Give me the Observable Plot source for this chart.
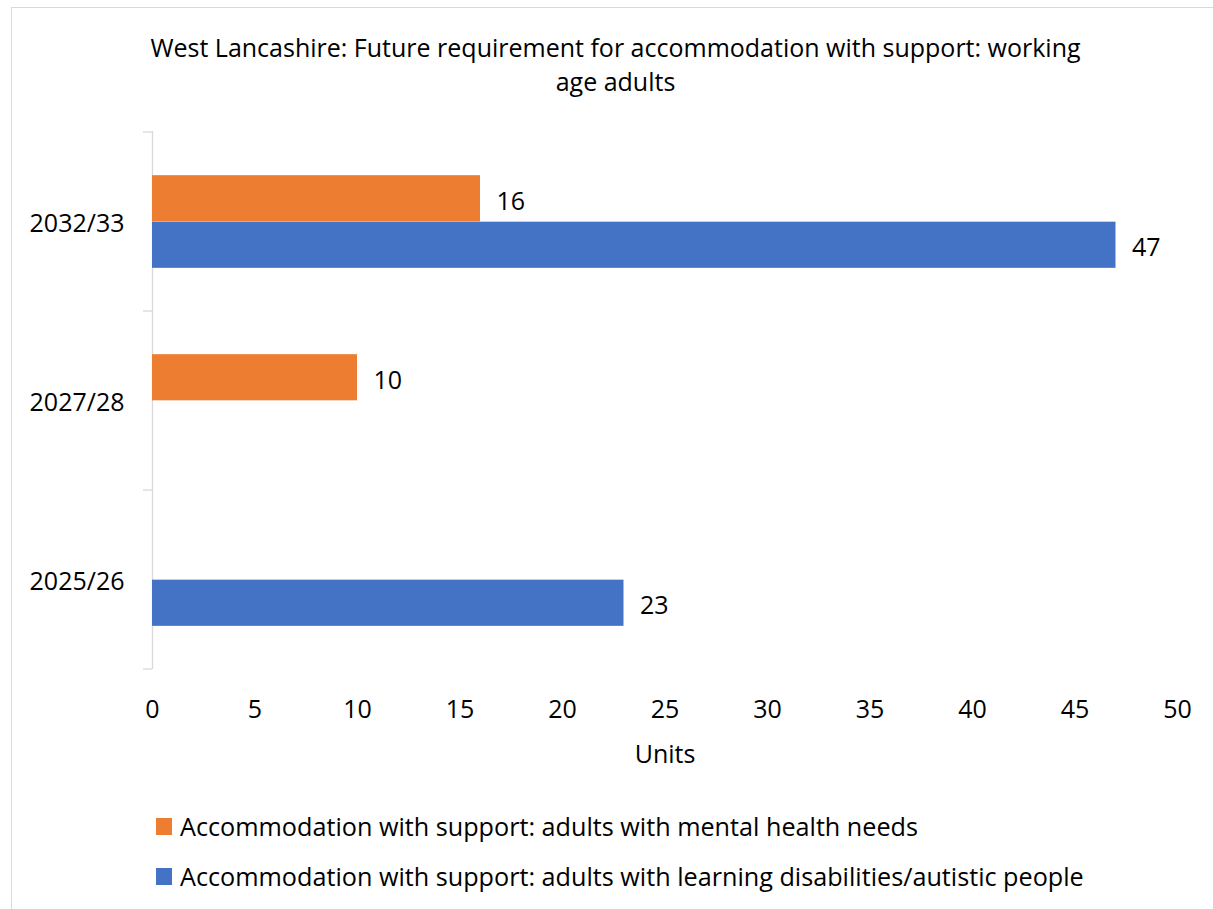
<!DOCTYPE html>
<html><head><meta charset="utf-8">
<script src="https://cdn.jsdelivr.net/npm/d3@7"></script>
<script src="https://cdn.jsdelivr.net/npm/@observablehq/plot@0.6"></script>
<style>
body{margin:0;background:#fff;}
#wrap{position:relative;width:1213px;height:909px;overflow:hidden;font-family:'Open Sans',sans-serif;color:#000;}
#frame{position:absolute;left:11px;top:7px;width:1400px;height:1200px;border:1.3px solid #d9d9d9;box-sizing:border-box;}
#title{position:absolute;left:0;top:30px;width:1231px;text-align:center;font-size:25px;line-height:34px;white-space:nowrap;}
#chart{position:absolute;left:0;top:100px;}
#legend{position:absolute;left:156px;top:801px;font-size:25.2px;}
.row{position:relative;height:50px;line-height:50px;white-space:nowrap;}
.sw{position:absolute;left:0;top:17px;width:16px;height:17px;}
.lt{position:absolute;left:24px;top:0;}
</style></head>
<body>
<div id="wrap">
  <div id="frame"></div>
  <div id="chart"></div>
  <div id="title"></div>
  <div id="legend"></div>
</div>
<script>
const titleLines = ["West Lancashire: Future requirement for accommodation with support: working", "age adults"];
const categories = ["2032/33", "2027/28", "2025/26"];
const seriesNames = [
  "Accommodation with support: adults with mental health needs",
  "Accommodation with support: adults with learning disabilities/autistic people"
];
const mentalHealth = [16, 10, null];
const learningDisabilities = [47, null, 23];
const xTicks = [0, 5, 10, 15, 20, 25, 30, 35, 40, 45, 50];
const xLabel = "Units";
const seriesColors = ["#ED7D31", "#4472C4"];

const rows = [];
categories.forEach((c, i) => {
  rows.push({year: c, series: seriesNames[0], value: mentalHealth[i]});
  rows.push({year: c, series: seriesNames[1], value: learningDisabilities[i]});
});
const valid = rows.filter(d => d.value != null);

const W = 1213, H = 690, MT = 31, MB = 121, ML = 152, MR = 36;
const band = (H - MT - MB) / categories.length;
const barH = 46.5;
const font = "'Open Sans', sans-serif";

function bandTicks(index, scales, values, dims) {
  const y = scales.y, x0 = scales.x(0);
  const ys = categories.map(c => y(c));
  ys.push(y(categories[categories.length - 1]) + y.bandwidth());
  const g = d3.create("svg:g");
  g.selectAll("line").data(ys).join("line")
    .attr("x1", x0 - 9).attr("x2", x0)
    .attr("y1", d => d).attr("y2", d => d)
    .attr("stroke", "#d9d9d9").attr("stroke-width", 1.3);
  return g.node();
}

const serieMarks = seriesNames.flatMap((s, k) => {
  const data = valid.filter(d => d.series === s);
  const top = k === 0;
  return [
    Plot.barX(data, {
      x: "value", y: "year", fill: "series",
      insetTop: top ? band / 2 - barH : band / 2,
      insetBottom: top ? band / 2 : band / 2 - barH
    }),
    Plot.text(data, {
      x: "value", y: "year", text: d => String(d.value),
      dx: 16, dy: (top ? -barH / 2 : barH / 2) + 3,
      textAnchor: "start", fill: "#000"
    })
  ];
});

const chart = Plot.plot({
  width: W, height: H,
  marginTop: MT, marginBottom: MB, marginLeft: ML, marginRight: MR,
  style: {fontFamily: font, fontSize: "25px", color: "#000", background: "transparent", overflow: "visible"},
  x: {domain: [0, 50]},
  y: {domain: categories, padding: 0},
  color: {domain: seriesNames, range: seriesColors},
  marks: [
    Plot.ruleX([0], {stroke: "#d9d9d9", strokeWidth: 1.3}),
    ...serieMarks,
    bandTicks,
    Plot.axisY({tickSize: 0, tickPadding: 28, dy: 2, label: null, fill: "#000"}),
    Plot.axisX({ticks: xTicks, tickSize: 0, tickPadding: 31, tickFormat: d => String(d), fill: "#000",
      label: xLabel, labelAnchor: "center", labelArrow: "none", labelOffset: 93})
  ]
});
document.getElementById("chart").appendChild(chart);

document.getElementById("title").innerHTML = titleLines.join("<br>");

const legend = d3.select("#legend");
seriesNames.forEach((s, i) => {
  const r = legend.append("div").attr("class", "row");
  r.append("span").attr("class", "sw").style("background", seriesColors[i]);
  r.append("span").attr("class", "lt").text(s);
});
</script>
</body></html>
